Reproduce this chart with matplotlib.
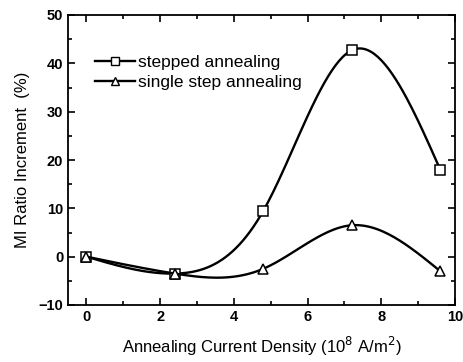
import numpy as np
import matplotlib.pyplot as plt
from matplotlib.ticker import MultipleLocator

plt.rcParams['font.family'] = ['Liberation Sans', 'DejaVu Sans']

current_density = [0, 2.4, 4.8, 7.2, 9.6]
stepped = [0, -3.5, 9.5, 42.7, 18.0]
single_step = [0, -3.5, -2.5, 6.5, -3.0]


def natural_spline(x, y, n=200):
    # natural cubic spline, only used for the smooth connecting line
    x = np.asarray(x, float)
    y = np.asarray(y, float)
    h = np.diff(x)
    k = len(x)
    A = np.zeros((k, k))
    b = np.zeros(k)
    A[0, 0] = A[-1, -1] = 1
    for i in range(1, k - 1):
        A[i, i - 1] = h[i - 1]
        A[i, i] = 2 * (h[i - 1] + h[i])
        A[i, i + 1] = h[i]
        b[i] = 6 * ((y[i + 1] - y[i]) / h[i] - (y[i] - y[i - 1]) / h[i - 1])
    M = np.linalg.solve(A, b)
    xs = np.linspace(x[0], x[-1], n)
    idx = np.clip(np.searchsorted(x, xs) - 1, 0, k - 2)
    x0, x1 = x[idx], x[idx + 1]
    hh = x1 - x0
    ys = (M[idx] * (x1 - xs) ** 3 / (6 * hh) + M[idx + 1] * (xs - x0) ** 3 / (6 * hh)
          + (y[idx] / hh - M[idx] * hh / 6) * (x1 - xs)
          + (y[idx + 1] / hh - M[idx + 1] * hh / 6) * (xs - x0))
    return xs, ys


fig = plt.figure(figsize=(4.64, 3.62), dpi=100)
ax = fig.add_axes([68 / 464, 1 - 305 / 362, (455 - 68) / 464, (305 - 15) / 362])

for ys, mk, lab in [(stepped, 's', 'stepped annealing'), (single_step, '^', 'single step annealing')]:
    sx, sy = natural_spline(current_density, ys)
    ax.plot(sx, sy, color='black', lw=1.7)
    ax.plot(current_density, ys, linestyle='none', marker=mk, ms=7, mfc='white', mec='black', mew=1.1)
    ax.plot([], [], color='black', lw=1.7, marker=mk, ms=6, mfc='white', mec='black', label=lab)

ax.set_xlim(-0.5, 10)
ax.set_ylim(-10, 50)
ax.xaxis.set_major_locator(MultipleLocator(2))
ax.xaxis.set_minor_locator(MultipleLocator(1))
ax.yaxis.set_major_locator(MultipleLocator(10))
ax.yaxis.set_minor_locator(MultipleLocator(5))
ax.tick_params(which='both', direction='in', top=True, right=True, width=1.2)
ax.tick_params(which='major', length=5, labelsize=10.5)
ax.tick_params(which='minor', length=3)
for lbl in ax.get_xticklabels() + ax.get_yticklabels():
    lbl.set_fontweight('bold')
for s in ax.spines.values():
    s.set_linewidth(1.3)

ax.set_xlabel('Annealing Current Density (10$^8$ A/m$^2$)', fontsize=12, labelpad=8)
ax.set_ylabel('MI Ratio Increment  (%)', fontsize=12, labelpad=6)

ax.legend(loc='upper left', bbox_to_anchor=(0.03, 0.915), frameon=False, fontsize=12.5,
          handlelength=2.3, handletextpad=0.15, labelspacing=0.25)

fig.savefig('out.png', dpi=100)
